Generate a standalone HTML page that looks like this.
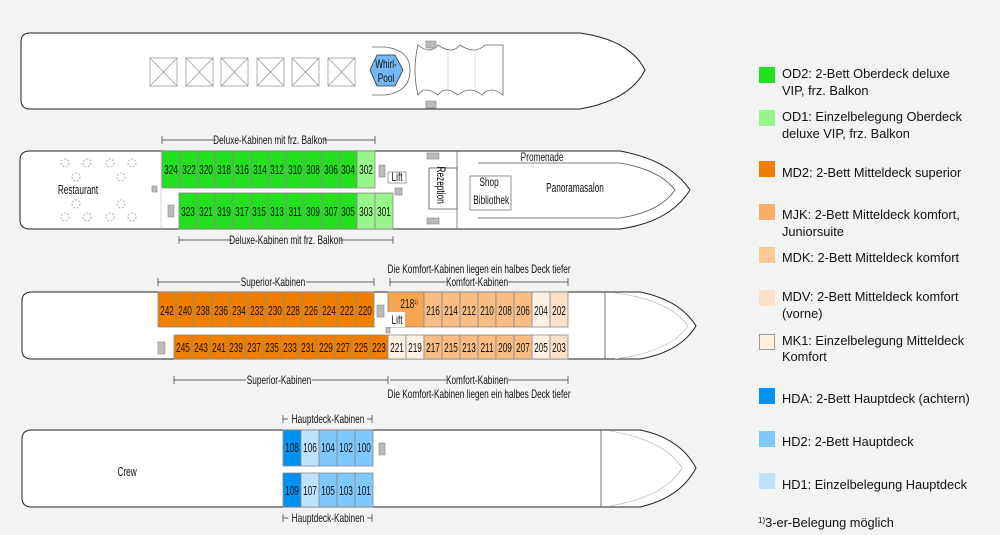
<!DOCTYPE html>
<html><head><meta charset="utf-8"><style>
body{margin:0;background:#f2f3f3;}
svg{display:block;font-family:"Liberation Sans",sans-serif;}
.c{stroke:#8a8a8a;stroke-width:0.8}
.t text,text.t{font-size:12.5px;text-anchor:middle;fill:#111;transform-box:fill-box;transform-origin:center;transform:scaleX(0.66)}
.d{font-size:11.5px;text-anchor:middle;fill:#111;transform-box:fill-box;transform-origin:center;transform:scaleX(0.72)}
.lg{font-family:"Liberation Sans",sans-serif;font-size:12.8px;fill:#111}
.h{fill:#fff;stroke:#222;stroke-width:1}
.g{fill:#bbb;stroke:#888;stroke-width:0.6}
</style></head><body>
<svg width="1000" height="535" viewBox="0 0 1000 535" xmlns="http://www.w3.org/2000/svg">
<rect width="1000" height="535" fill="#f2f3f3"/>

<!-- TOP DECK -->
<path class="h" d="M30,33 H580 Q630,40 645,70 Q630,100 580,109 H30 Q21,109 21,100 V42 Q21,33 30,33 Z"/>
<g fill="#fff" stroke="#999" stroke-width="0.8">
<rect x="150" y="58" width="27" height="28"/><path d="M150,58 L177,86 M177,58 L150,86"/>
<rect x="186" y="58" width="27" height="28"/><path d="M186,58 L213,86 M213,58 L186,86"/>
<rect x="221" y="58" width="27" height="28"/><path d="M221,58 L248,86 M248,58 L221,86"/>
<rect x="257" y="58" width="27" height="28"/><path d="M257,58 L284,86 M284,58 L257,86"/>
<rect x="292" y="58" width="27" height="28"/><path d="M292,58 L319,86 M319,58 L292,86"/>
<rect x="328" y="58" width="27" height="28"/><path d="M328,58 L355,86 M355,58 L328,86"/>
</g>
<path d="M372,47 H385 Q410,50 410,70 Q410,92 385,95 H372" fill="none" stroke="#666" stroke-width="0.8"/>
<polygon points="377,55 395,55 403,70 395,86 377,86 370,70" fill="#73b7f3" stroke="#333" stroke-width="0.8"/>
<text class="d" x="386" y="68">Whirl-</text><text class="d" x="386" y="82">Pool</text>
<path d="M418,45 Q430,55 438,45 Q452,55 460,45 Q475,55 485,45 L503,45 V95 Q490,85 482,95 Q470,85 458,95 Q445,85 438,95 Q425,85 418,95 Q412,70 418,45 Z" fill="#fff" stroke="#666" stroke-width="0.8"/>
<path d="M448,50 V90 M475,50 V90" stroke="#ccc" stroke-width="0.6"/>
<rect class="g" x="426" y="41" width="10" height="7"/><rect class="g" x="426" y="101" width="10" height="7"/>

<!-- DECK 3 -->
<path class="h" d="M30,151 H620 Q670,160 690,190 Q670,222 620,229 H30 Q20,229 20,220 V160 Q20,151 30,151 Z"/>
<path d="M478,163 H620 Q660,170 675,190 Q660,212 620,218 H478" fill="none" stroke="#555" stroke-width="0.8"/>
<text class="d" x="542" y="161">Promenade</text>
<line x1="457" y1="151" x2="457" y2="229" stroke="#666" stroke-width="0.8"/>
<line x1="161" y1="151" x2="161" y2="229" stroke="#bbb" stroke-width="0.6"/>
<rect x="429" y="168" width="28" height="41" fill="#fff" stroke="#555" stroke-width="0.8"/>
<text x="440" y="188" style="font-size:11.5px;text-anchor:middle;transform-box:fill-box;transform-origin:center;transform:rotate(90deg) scaleX(0.72)">Rezeption</text>
<rect x="470" y="176" width="41" height="34" fill="#fff" stroke="#777" stroke-width="0.8"/>
<text class="d" x="489" y="186">Shop</text><text class="d" x="491" y="204">Bibliothek</text>
<text class="t" x="575" y="192">Panoramasalon</text>
<text class="t" x="78" y="194">Restaurant</text>
<g fill="none" stroke="#bbb" stroke-width="1.2" stroke-dasharray="2 1.5">
<circle cx="65" cy="163" r="4"/><circle cx="87" cy="163" r="4"/><circle cx="110" cy="163" r="4"/><circle cx="132" cy="163" r="4"/>
<circle cx="76" cy="177" r="4"/><circle cx="121" cy="177" r="4"/>
<circle cx="76" cy="204" r="4"/><circle cx="121" cy="204" r="4"/>
<circle cx="65" cy="217" r="4"/><circle cx="87" cy="217" r="4"/><circle cx="110" cy="217" r="4"/><circle cx="132" cy="217" r="4"/>
</g>
<rect class="g" x="152" y="186" width="5" height="6"/>
<rect class="g" x="379" y="165" width="6" height="12"/>
<rect class="g" x="168" y="205" width="6" height="12"/>
<rect x="388" y="172" width="18" height="11" fill="#fff" stroke="#666" stroke-width="0.6"/><text class="d" x="397" y="181">Lift</text>
<rect class="g" x="395" y="188" width="7" height="7"/>
<rect class="g" x="427" y="153" width="12" height="6"/><rect class="g" x="427" y="218" width="12" height="6"/>
<g class="c">
<rect x="162" y="151" width="18" height="37" fill="#22e01e"/><rect x="180" y="151" width="18" height="37" fill="#22e01e"/><rect x="198" y="151" width="17" height="37" fill="#22e01e"/><rect x="215" y="151" width="18" height="37" fill="#22e01e"/><rect x="233" y="151" width="18" height="37" fill="#22e01e"/><rect x="251" y="151" width="18" height="37" fill="#22e01e"/><rect x="269" y="151" width="17" height="37" fill="#22e01e"/><rect x="286" y="151" width="18" height="37" fill="#22e01e"/><rect x="304" y="151" width="18" height="37" fill="#22e01e"/><rect x="322" y="151" width="18" height="37" fill="#22e01e"/><rect x="340" y="151" width="17" height="37" fill="#22e01e"/><rect x="357" y="151" width="18" height="37" fill="#99f48b"/>
<rect x="179" y="193" width="18" height="36" fill="#22e01e"/><rect x="197" y="193" width="18" height="36" fill="#22e01e"/><rect x="215" y="193" width="18" height="36" fill="#22e01e"/><rect x="233" y="193" width="18" height="36" fill="#22e01e"/><rect x="251" y="193" width="17" height="36" fill="#22e01e"/><rect x="268" y="193" width="18" height="36" fill="#22e01e"/><rect x="286" y="193" width="18" height="36" fill="#22e01e"/><rect x="304" y="193" width="18" height="36" fill="#22e01e"/><rect x="322" y="193" width="18" height="36" fill="#22e01e"/><rect x="340" y="193" width="17" height="36" fill="#22e01e"/><rect x="357" y="193" width="18" height="36" fill="#99f48b"/><rect x="375" y="193" width="18" height="36" fill="#99f48b"/>
</g>
<g class="t">
<text x="171" y="174">324</text><text x="189" y="174">322</text><text x="206" y="174">320</text><text x="224" y="174">318</text><text x="242" y="174">316</text><text x="260" y="174">314</text><text x="277" y="174">312</text><text x="295" y="174">310</text><text x="313" y="174">308</text><text x="331" y="174">306</text><text x="348" y="174">304</text><text x="366" y="174">302</text>
<text x="188" y="216">323</text><text x="206" y="216">321</text><text x="224" y="216">319</text><text x="242" y="216">317</text><text x="259" y="216">315</text><text x="277" y="216">313</text><text x="295" y="216">311</text><text x="313" y="216">309</text><text x="331" y="216">307</text><text x="348" y="216">305</text><text x="366" y="216">303</text><text x="384" y="216">301</text>
</g>
<g stroke="#333" stroke-width="0.7">
<path d="M162,140 H375 M162,136 V144 M375,136 V144"/>
<path d="M179,240 H393 M179,236 V244 M393,236 V244"/>
</g>
<rect x="216" y="134" width="108" height="12" fill="#f2f3f3"/><text class="d" x="270" y="144">Deluxe-Kabinen mit frz. Balkon</text>
<rect x="232" y="234" width="108" height="12" fill="#f2f3f3"/><text class="d" x="286" y="244">Deluxe-Kabinen mit frz. Balkon</text>

<!-- DECK 2 -->
<path class="h" d="M32,292 H640 Q680,300 696,326 Q680,352 640,359 H32 Q22,359 22,350 V301 Q22,292 32,292 Z"/>
<path d="M605,292 V359" stroke="#555" stroke-width="0.8"/>
<path d="M615,293 Q670,300 688,326 Q670,352 615,359" fill="none" stroke="#aaa" stroke-width="0.6"/>
<rect class="g" x="158" y="342" width="7" height="12"/>
<rect class="g" x="377" y="305" width="7" height="12"/>
<rect class="g" x="386" y="327" width="4" height="6"/>
<g class="c">
<rect x="158" y="292" width="18" height="35" fill="#f07f00"/><rect x="176" y="292" width="18" height="35" fill="#f07f00"/><rect x="194" y="292" width="18" height="35" fill="#f07f00"/><rect x="212" y="292" width="18" height="35" fill="#f07f00"/><rect x="230" y="292" width="18" height="35" fill="#f07f00"/><rect x="248" y="292" width="18" height="35" fill="#f07f00"/><rect x="266" y="292" width="18" height="35" fill="#f07f00"/><rect x="284" y="292" width="18" height="35" fill="#f07f00"/><rect x="302" y="292" width="18" height="35" fill="#f07f00"/><rect x="320" y="292" width="18" height="35" fill="#f07f00"/><rect x="338" y="292" width="18" height="35" fill="#f07f00"/><rect x="356" y="292" width="18" height="35" fill="#f07f00"/>
<rect x="388" y="292" width="36" height="35" fill="#f8a54f"/>
<rect x="424" y="292" width="18" height="35" fill="#f9bc84"/><rect x="442" y="292" width="18" height="35" fill="#f9bc84"/><rect x="460" y="292" width="18" height="35" fill="#f9bc84"/><rect x="478" y="292" width="18" height="35" fill="#f9bc84"/><rect x="496" y="292" width="18" height="35" fill="#f9bc84"/><rect x="514" y="292" width="18" height="35" fill="#f9bc84"/><rect x="532" y="292" width="18" height="35" fill="#fff0e4"/><rect x="550" y="292" width="18" height="35" fill="#fde0c8"/>
<rect x="174" y="335" width="18" height="24" fill="#f07f00"/><rect x="192" y="335" width="18" height="24" fill="#f07f00"/><rect x="210" y="335" width="18" height="24" fill="#f07f00"/><rect x="228" y="335" width="17" height="24" fill="#f07f00"/><rect x="245" y="335" width="18" height="24" fill="#f07f00"/><rect x="263" y="335" width="18" height="24" fill="#f07f00"/><rect x="281" y="335" width="18" height="24" fill="#f07f00"/><rect x="299" y="335" width="18" height="24" fill="#f07f00"/><rect x="317" y="335" width="18" height="24" fill="#f07f00"/><rect x="335" y="335" width="17" height="24" fill="#f07f00"/><rect x="352" y="335" width="18" height="24" fill="#f07f00"/><rect x="370" y="335" width="18" height="24" fill="#f07f00"/>
<rect x="388" y="335" width="18" height="24" fill="#fff0e4"/><rect x="406" y="335" width="18" height="24" fill="#fff0e4"/><rect x="424" y="335" width="18" height="24" fill="#f9bc84"/><rect x="442" y="335" width="18" height="24" fill="#f9bc84"/><rect x="460" y="335" width="18" height="24" fill="#f9bc84"/><rect x="478" y="335" width="18" height="24" fill="#f9bc84"/><rect x="496" y="335" width="18" height="24" fill="#f9bc84"/><rect x="514" y="335" width="18" height="24" fill="#f9bc84"/><rect x="532" y="335" width="18" height="24" fill="#fff0e4"/><rect x="550" y="335" width="18" height="24" fill="#fde0c8"/>
</g>
<rect x="386" y="312" width="19" height="15" fill="#fff"/><text class="d" x="397" y="324">Lift</text>
<g class="t">
<text x="167" y="315">242</text><text x="185" y="315">240</text><text x="203" y="315">238</text><text x="221" y="315">236</text><text x="239" y="315">234</text><text x="257" y="315">232</text><text x="275" y="315">230</text><text x="293" y="315">228</text><text x="311" y="315">226</text><text x="329" y="315">224</text><text x="347" y="315">222</text><text x="365" y="315">220</text>
<text x="409" y="308">218<tspan style="font-size:6px" dy="-4">1)</tspan></text>
<text x="433" y="315">216</text><text x="451" y="315">214</text><text x="469" y="315">212</text><text x="487" y="315">210</text><text x="505" y="315">208</text><text x="523" y="315">206</text><text x="541" y="315">204</text><text x="559" y="315">202</text>
<text x="183" y="352">245</text><text x="201" y="352">243</text><text x="219" y="352">241</text><text x="236" y="352">239</text><text x="254" y="352">237</text><text x="272" y="352">235</text><text x="290" y="352">233</text><text x="308" y="352">231</text><text x="326" y="352">229</text><text x="343" y="352">227</text><text x="361" y="352">225</text><text x="379" y="352">223</text>
<text x="397" y="352">221</text><text x="415" y="352">219</text><text x="433" y="352">217</text><text x="451" y="352">215</text><text x="469" y="352">213</text><text x="487" y="352">211</text><text x="505" y="352">209</text><text x="523" y="352">207</text><text x="541" y="352">205</text><text x="559" y="352">203</text>
</g>
<g stroke="#333" stroke-width="0.7">
<path d="M158,282 H374 M158,278 V286 M374,278 V286"/>
<path d="M390,282 H568 M390,278 V286 M568,278 V286"/>
<path d="M174,380 H388 M174,376 V384 M388,376 V384"/>
<path d="M390,380 H568 M568,376 V384"/>
</g>
<rect x="240" y="276" width="66" height="12" fill="#f2f3f3"/><text class="d" x="273" y="286">Superior-Kabinen</text>
<rect x="446" y="276" width="62" height="12" fill="#f2f3f3"/><text class="d" x="477" y="286">Komfort-Kabinen</text>
<rect x="246" y="374" width="66" height="12" fill="#f2f3f3"/><text class="d" x="279" y="384">Superior-Kabinen</text>
<rect x="446" y="374" width="62" height="12" fill="#f2f3f3"/><text class="d" x="477" y="384">Komfort-Kabinen</text>
<text class="d" x="479" y="273">Die Komfort-Kabinen liegen ein halbes Deck tiefer</text>
<text class="d" x="479" y="398">Die Komfort-Kabinen liegen ein halbes Deck tiefer</text>

<!-- DECK 1 -->
<path class="h" d="M32,430 H640 Q680,438 696,468 Q680,498 640,507 H32 Q22,507 22,498 V439 Q22,430 32,430 Z"/>
<path d="M601,430 V507" stroke="#555" stroke-width="0.8"/>
<path d="M610,431 Q665,440 682,468 Q665,497 610,506" fill="none" stroke="#aaa" stroke-width="0.6"/>
<text class="t" x="127" y="476">Crew</text>
<rect class="g" x="379" y="443" width="6" height="12"/>
<g class="c">
<rect x="283" y="430" width="18" height="36" fill="#0092f0"/><rect x="301" y="430" width="18" height="36" fill="#bfe3fc"/><rect x="319" y="430" width="18" height="36" fill="#7fc8fb"/><rect x="337" y="430" width="18" height="36" fill="#7fc8fb"/><rect x="355" y="430" width="18" height="36" fill="#7fc8fb"/>
<rect x="283" y="473" width="18" height="34" fill="#0092f0"/><rect x="301" y="473" width="18" height="34" fill="#bfe3fc"/><rect x="319" y="473" width="18" height="34" fill="#7fc8fb"/><rect x="337" y="473" width="18" height="34" fill="#7fc8fb"/><rect x="355" y="473" width="18" height="34" fill="#7fc8fb"/>
</g>
<g class="t">
<text x="292" y="452">108</text><text x="310" y="452">106</text><text x="328" y="452">104</text><text x="346" y="452">102</text><text x="364" y="452">100</text>
<text x="292" y="495">109</text><text x="310" y="495">107</text><text x="328" y="495">105</text><text x="346" y="495">103</text><text x="364" y="495">101</text>
</g>
<g stroke="#333" stroke-width="0.7">
<path d="M283,419 H372 M283,415 V423 M372,415 V423"/>
<path d="M283,518 H372 M283,514 V522 M372,514 V522"/>
</g>
<rect x="288" y="413" width="79" height="12" fill="#f2f3f3"/><text class="d" x="328" y="423">Hauptdeck-Kabinen</text>
<rect x="288" y="512" width="79" height="12" fill="#f2f3f3"/><text class="d" x="328" y="522">Hauptdeck-Kabinen</text>

<!-- LEGEND -->
<rect x="759" y="67" width="16" height="16" fill="#22e01e"/>
<text class="lg" x="782" y="78">OD2: 2-Bett Oberdeck deluxe</text><text class="lg" x="782" y="95">VIP, frz. Balkon</text>
<rect x="759" y="110" width="16" height="16" fill="#99f48b"/>
<text class="lg" x="782" y="121">OD1: Einzelbelegung Oberdeck</text><text class="lg" x="782" y="138">deluxe VIP, frz. Balkon</text>
<rect x="759" y="161" width="16" height="16" fill="#f07f00"/>
<text class="lg" x="782" y="177">MD2: 2-Bett Mitteldeck superior</text>
<rect x="759" y="204" width="16" height="16" fill="#f8ae66"/>
<text class="lg" x="782" y="219">MJK: 2-Bett Mitteldeck komfort,</text><text class="lg" x="782" y="236">Juniorsuite</text>
<rect x="759" y="247" width="16" height="16" fill="#fbc996"/>
<text class="lg" x="782" y="262">MDK: 2-Bett Mitteldeck komfort</text>
<rect x="759" y="290" width="16" height="16" fill="#fde0c8"/>
<text class="lg" x="782" y="301">MDV: 2-Bett Mitteldeck komfort</text><text class="lg" x="782" y="318">(vorne)</text>
<rect x="759.5" y="334.5" width="15" height="15" fill="#fff0e4" stroke="#999"/>
<text class="lg" x="782" y="345">MK1: Einzelbelegung Mitteldeck</text><text class="lg" x="782" y="361">Komfort</text>
<rect x="759" y="388" width="16" height="16" fill="#0092f0"/>
<text class="lg" x="782" y="403">HDA: 2-Bett Hauptdeck (achtern)</text>
<rect x="759" y="431" width="16" height="16" fill="#7fc8fb"/>
<text class="lg" x="782" y="446">HD2: 2-Bett Hauptdeck</text>
<rect x="759" y="473" width="16" height="16" fill="#bfe3fc"/>
<text class="lg" x="782" y="489">HD1: Einzelbelegung Hauptdeck</text>
<text class="lg" x="758" y="527"><tspan style="font-size:8px" dy="-4">1)</tspan><tspan dy="4">3-er-Belegung möglich</tspan></text>
</svg>
</body></html>
